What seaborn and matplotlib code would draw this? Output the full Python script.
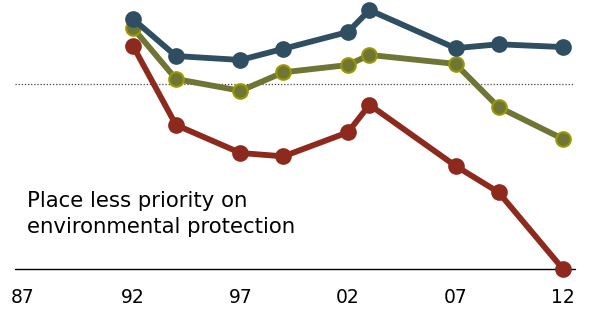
import matplotlib
matplotlib.use("Agg")
import matplotlib.pyplot as plt
import seaborn as sns
import pandas as pd

years = [1992, 1994, 1997, 1999, 2002, 2003, 2007, 2009, 2012]
blue_vals = [91.6, 85.0, 84.3, 86.3, 89.3, 93.2, 86.4, 87.1, 86.6]
olive_vals = [90.0, 80.9, 78.8, 82.1, 83.4, 85.2, 83.6, 75.9, 70.2]
red_vals = [86.8, 72.7, 67.7, 67.1, 71.4, 76.3, 65.4, 60.7, 47.0]
tick_years = [1986.85, 1992, 1997, 2002, 2007, 2012]
tick_labels = ["87", "92", "97", "02", "07", "12"]
label_lines = ["Place less priority on", "environmental protection"]
ref_value = 80

sns.set_theme(style="white")
plt.rcParams["font.family"] = ["DejaVu Sans"]

df = pd.DataFrame({
    "year": years * 3,
    "value": blue_vals + olive_vals + red_vals,
    "group": ["blue"] * len(years) + ["olive"] * len(years) + ["red"] * len(years),
})

fig = plt.figure(figsize=(5.9, 3.1), dpi=100)
ax = fig.add_axes([15 / 590, 1 - 269 / 310, 560 / 590, 269 / 310])

ax.axhline(ref_value, color="#444444", lw=0.9, ls=(0, (1, 1.5)), zorder=1)
ax.axhline(47, color="black", lw=1.0, zorder=1, clip_on=False)

styles = {
    "blue": dict(color="#2F4E62", mfc="#2F4E62", mec="#2F4E62"),
    "olive": dict(color="#6E7535", mfc="#6E7535", mec="#9A9A00"),
    "red": dict(color="#8D2A1D", mfc="#8D2A1D", mec="#8D2A1D"),
}
for name in ["red", "olive", "blue"]:
    sub = df[df["group"] == name]
    st = styles[name]
    sns.lineplot(data=sub, x="year", y="value", ax=ax, color=st["color"],
                 lw=4.2, marker="o", markersize=10.5,
                 markerfacecolor=st["mfc"], markeredgecolor=st["mec"],
                 markeredgewidth=1.5, clip_on=False, zorder=3)

ax.set_xlim(1986.512, 2012.558)
ax.set_ylim(47, 95)
ax.set_xticks(tick_years)
ax.set_xticklabels(tick_labels, fontsize=13.5, color="black")
ax.tick_params(axis="x", length=0, pad=14)
ax.set_yticks([])
ax.set_xlabel("")
ax.set_ylabel("")
for s in ax.spines.values():
    s.set_visible(False)

# two-line annotation, baselines placed separately
for line, base_y in zip(label_lines, [207, 233]):
    fig.text(27 / 590, 1 - base_y / 310, line, fontsize=15.3,
             va="baseline", ha="left", color="black")

fig.savefig("out.png", dpi=100)
